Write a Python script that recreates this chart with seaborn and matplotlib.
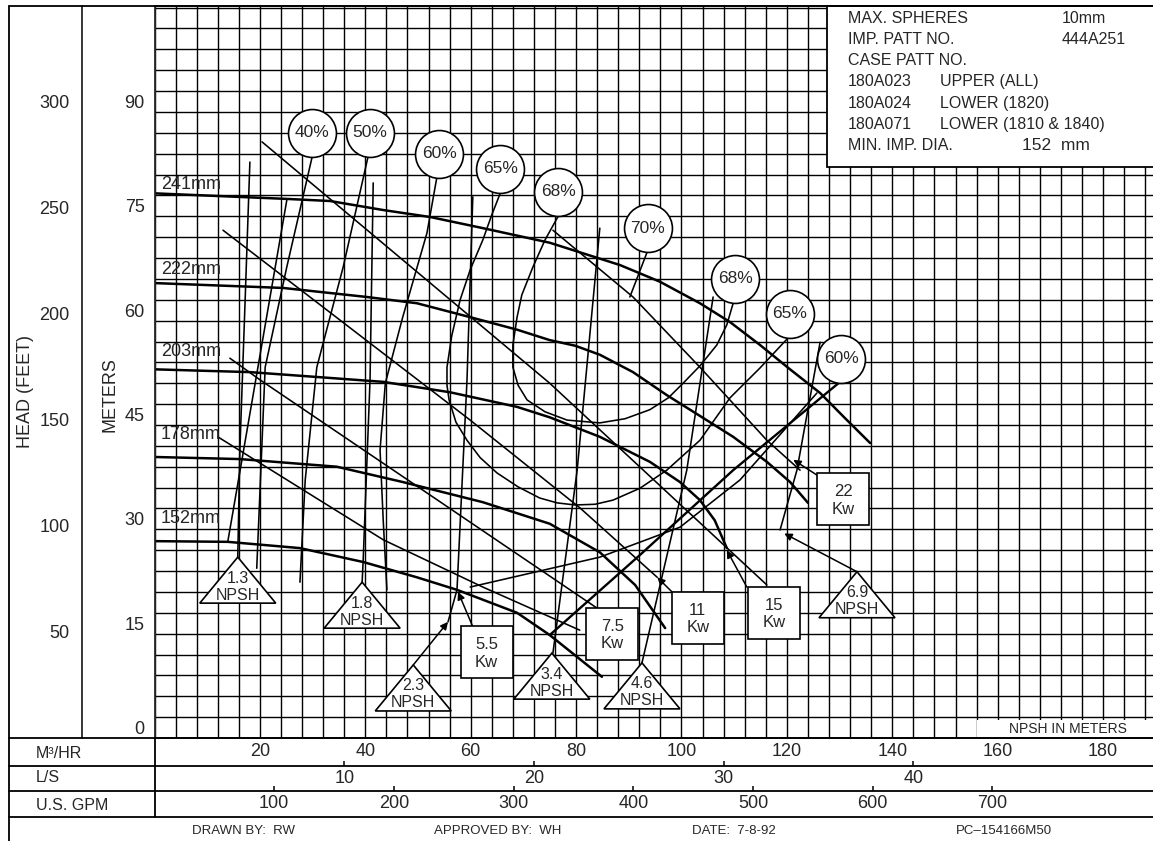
import numpy as np
import matplotlib.pyplot as plt
import matplotlib.patches as mpatches
from matplotlib.lines import Line2D
import seaborn as sns

# impeller head curves, flow in m3/hr, head in metres
dia_labels = ["241mm", "222mm", "203mm", "178mm", "152mm"]
dia_label_head = [79.5, 67.3, 55.5, 43.6, 31.6]
q_241 = [0, 25.1, 33.3, 43.4, 52.3, 62.3, 75.0, 88.3, 95.9, 103.5, 109.2, 114.9, 120.6, 126.3, 131.0, 135.8]
h_241 = [78.3, 77.5, 77.2, 75.9, 74.9, 73.3, 71.2, 68.0, 65.6, 62.5, 59.8, 56.5, 53.0, 49.6, 46.0, 42.4]
q_222 = [0, 24.4, 40.3, 49.8, 59.9, 68.8, 75.0, 79.8, 84.5, 90.8, 97.2, 103.5, 109.8, 116.2, 120.6, 124.0]
h_222 = [65.4, 64.7, 63.4, 62.5, 60.5, 58.7, 57.2, 56.4, 55.1, 52.6, 49.3, 46.3, 43.3, 39.7, 36.8, 33.8]
q_203 = [0, 18.1, 30.8, 43.4, 56.1, 68.8, 75.0, 84.5, 94.0, 99.7, 103.5, 106.3, 108.6]
h_203 = [53.0, 52.6, 51.9, 51.2, 49.7, 47.6, 46.1, 43.3, 39.7, 36.8, 34.2, 31.3, 27.3]
q_178 = [0, 16.2, 34.6, 47.1, 62.3, 75.0, 84.5, 91.2, 96.9]
h_178 = [40.4, 40.1, 39.0, 36.8, 33.9, 30.8, 26.7, 22.0, 15.8]
q_152 = [0, 13.9, 27.6, 39.6, 49.8, 57.4, 68.8, 75.0, 84.9]
h_152 = [28.3, 28.2, 27.3, 25.3, 23.1, 21.3, 18.0, 14.8, 8.8]

# efficiency contours
q_e40 = [29.9, 25.1, 21.0, 19.4]
h_e40 = [83.5, 67.7, 53.3, 24.4]
q_e50 = [40.5, 35.8, 30.8, 28.6, 27.6]
h_e50 = [83.5, 67.7, 53.3, 37.1, 22.4]
q_e60 = [53.6, 51.7, 47.1, 43.8, 42.8, 43.4, 44.1]
h_e60 = [80.7, 72.6, 60.5, 51.0, 41.4, 31.3, 21.3]
q_e65 = [65.6, 64.0, 62.3, 59.9, 58.0, 56.4, 55.5, 55.5, 55.9, 57.2, 59.3, 61.8, 65.0, 69.0,
         73.1, 76.4, 79.8, 83.6, 87.0, 92.1, 97.2, 103.5, 109.2, 114.9, 120.2]
h_e65 = [78.3, 75.2, 71.6, 67.3, 63.0, 57.8, 53.3, 50.7, 48.6, 45.4, 42.8, 40.3, 38.1, 36.1,
         34.5, 33.8, 33.5, 33.6, 34.2, 35.9, 38.5, 42.8, 48.9, 53.2, 57.5]
q_e68 = [76.6, 74.1, 71.8, 69.7, 68.8, 68.0, 68.0, 69.0, 70.7, 74.1, 78.3, 84.5, 89.3, 94.0,
         97.5, 100.3, 103.5, 106.7, 108.6, 109.8]
h_e68 = [75.0, 71.6, 67.7, 63.7, 60.5, 56.5, 53.3, 50.7, 48.6, 46.9, 45.7, 45.3, 45.9, 47.2,
         48.9, 51.0, 53.5, 56.5, 59.4, 62.5]
q_e60r = [130.1, 109.8, 92.1, 75.0]
h_e60r = [51.2, 38.5, 26.3, 14.8]
q_e60b = [59.9, 84.5, 99.7, 111.1, 125.7]
h_e60b = [21.7, 26.0, 30.3, 37.1, 49.6]
q_edge = [25.1, 13.9]
h_edge = [77.3, 28.2]

# npsh lines
q_n13 = [18.1, 17.2, 16.2, 15.8]
h_n13 = [82.8, 63.0, 41.4, 26.0]
q_n18 = [41.5, 40.9, 39.6, 39.4]
h_n18 = [79.8, 51.5, 25.6, 22.4]
q_n23 = [60.4, 59.3, 57.4, 55.7]
h_n23 = [77.8, 51.5, 21.3, 16.7]
q_n34 = [84.5, 80.2, 75.6]
h_n34 = [73.3, 38.5, 12.2]
q_n46 = [106.0, 101.0, 92.5]
h_n46 = [63.4, 38.5, 10.8]
q_n69 = [126.3, 121.9, 118.7]
h_n69 = [56.9, 38.5, 29.9]

# power lines
q_p1 = [13.0, 59.9, 80.7, 95.4]
h_p1 = [73.0, 45.7, 33.1, 23.1]
q_p2 = [20.4, 75.0, 116.2]
h_p2 = [85.7, 51.0, 22.0]
q_p3 = [14.3, 20.0, 84.5]
h_p3 = [54.6, 51.5, 18.4]
q_p4 = [12.0, 43.4, 62.3, 80.7]
h_p4 = [43.3, 28.5, 21.7, 15.5]
q_p5 = [75.6, 90.8, 103.5, 116.2, 122.5]
h_p5 = [73.0, 63.4, 53.3, 42.8, 38.5]

# labels
eff_labels = ["40%", "50%", "60%", "65%", "68%", "70%", "68%", "65%", "60%"]
eff_q = [29.9, 40.9, 54.0, 65.6, 76.6, 93.6, 110.2, 120.6, 130.3]
eff_h = [87.0, 87.0, 84.0, 81.8, 78.5, 73.3, 66.0, 61.0, 54.5]
kw_labels = ["5.5", "7.5", "11", "15", "22"]
kw_q = [63.0, 86.9, 103.1, 117.6, 130.7]
kw_h = [12.3, 15.0, 17.3, 18.0, 34.3]
npsh_labels = ["1.3", "1.8", "2.3", "3.4", "4.6", "6.9"]
npsh_q = [15.8, 39.4, 49.1, 75.4, 92.5, 133.3]
npsh_h = [26.0, 22.4, 10.5, 12.2, 10.8, 23.9]

# leader lines with arrowheads (from, to)
lead_q0 = [60.4, 98.2, 112.4, 125.7, 49.1, 133.3]
lead_h0 = [16.0, 21.0, 21.7, 37.8, 10.5, 23.9]
lead_q1 = [57.6, 95.4, 108.6, 121.2, 55.7, 119.5]
lead_h1 = [21.0, 23.1, 27.0, 40.0, 16.7, 29.4]
q_70lead = [93.5, 90.2]
h_70lead = [69.9, 63.4]

# flow scales along the bottom
m3hr_ticks = [20, 40, 60, 80, 100, 120, 140, 160, 180]
ls_ticks = [10, 20, 30, 40]
gpm_ticks = [100, 200, 300, 400, 500, 600, 700]
ft_ticks = [50, 100, 150, 200, 250, 300]
m_ticks = [0, 15, 30, 45, 60, 75, 90]

info_left = ["MAX. SPHERES", "IMP. PATT NO.", "CASE PATT NO.", "180A023", "180A024",
             "180A071", "MIN. IMP. DIA."]
info_mid = ["", "", "", "UPPER (ALL)", "LOWER (1820)", "LOWER (1810 & 1840)", ""]
info_right = ["10mm", "444A251", "", "", "", "", ""]

sns.set_style("white")
plt.rcParams["font.family"] = ["Liberation Sans", "DejaVu Sans"]

W, H = 1153, 841
fig = plt.figure(figsize=(W / 100, H / 100), dpi=100)


def fx(px):
    return px / W


def fy(py):
    return 1 - py / H


def fig_line(x0, y0, x1, y1, lw=1.3):
    fig.add_artist(Line2D([fx(x0), fx(x1)], [fy(y0), fy(y1)], transform=fig.transFigure,
                          color="black", lw=lw, zorder=6))


X0, X1, Y0, Y1 = 154.5, 1153, 738, 6
ax = fig.add_axes([fx(X0), fy(Y0), fx(X1) - fx(X0), fy(Y1) - fy(Y0)])
ax.set_xlim(0, (X1 - X0) / 5.27)
ax.set_ylim(0, (Y0 - Y1) / 6.956)
ax.set_xticks(np.arange(0, 190, 4))
ax.set_yticks(m_ticks)
ax.set_yticks(np.arange(0, 106, 3), minor=True)
ax.set_yticklabels([str(v) for v in m_ticks])
ax.grid(True, which="both", color="black", lw=1.0)
ax.set_axisbelow(True)
ax.tick_params(axis="x", length=0, labelbottom=False)
ax.tick_params(axis="y", which="both", length=0, pad=7, labelsize=13)
for lbl in ax.get_yticklabels():
    lbl.set_va("bottom")
ax.spines["right"].set_visible(False)
for s in ["left", "top", "bottom"]:
    ax.spines[s].set_linewidth(1.3)
ax.set_xlabel("")
ax.set_ylabel("")

heads = [(q_241, h_241), (q_222, h_222), (q_203, h_203), (q_178, h_178), (q_152, h_152)]
for (q, h) in heads:
    sns.lineplot(x=q, y=h, ax=ax, color="black", lw=1.8, sort=False, estimator=None)

thin = [(q_e40, h_e40), (q_e50, h_e50), (q_e60, h_e60), (q_e65, h_e65), (q_e68, h_e68),
        (q_e60b, h_e60b), (q_edge, h_edge),
        (q_n13, h_n13), (q_n18, h_n18), (q_n23, h_n23), (q_n34, h_n34), (q_n46, h_n46),
        (q_n69, h_n69), (q_p1, h_p1), (q_p2, h_p2), (q_p3, h_p3), (q_p4, h_p4),
        (q_p5, h_p5), (q_70lead, h_70lead)]
for (q, h) in thin:
    sns.lineplot(x=q, y=h, ax=ax, color="black", lw=1.15, sort=False, estimator=None)
sns.lineplot(x=q_e60r, y=h_e60r, ax=ax, color="black", lw=1.7, sort=False, estimator=None)

for i in range(len(lead_q0)):
    ax.annotate("", xy=(lead_q1[i], lead_h1[i]), xytext=(lead_q0[i], lead_h0[i]),
                arrowprops=dict(arrowstyle="-|>", color="black", lw=1.1,
                                mutation_scale=11, shrinkA=0, shrinkB=0), zorder=3)

# head labels
for lab, hy in zip(dia_labels, dia_label_head):
    ax.text(1.2, hy, lab, fontsize=13, ha="left", va="center", zorder=5)

# efficiency circles
ax.scatter(eff_q, eff_h, s=1190, facecolor="white", edgecolor="black", lw=1.2, zorder=4)
for lab, q, h in zip(eff_labels, eff_q, eff_h):
    ax.text(q, h, lab, fontsize=12.5, ha="center", va="center", zorder=5)

# power boxes
bw, bh = 52 / 5.27, 52 / 6.956
for lab, q, h in zip(kw_labels, kw_q, kw_h):
    ax.add_patch(mpatches.Rectangle((q - bw / 2, h - bh / 2), bw, bh, fc="white", ec="black",
                                    lw=1.2, zorder=4))
    ax.text(q, h + 1.1, lab, fontsize=12, ha="center", va="center", zorder=5)
    ax.text(q, h - 1.4, "Kw", fontsize=12, ha="center", va="center", zorder=5)

# npsh triangles
tw, th = 38 / 5.27, 46 / 6.956
for lab, q, h in zip(npsh_labels, npsh_q, npsh_h):
    ax.add_patch(mpatches.Polygon([(q, h), (q - tw, h - th), (q + tw, h - th)], closed=True,
                                  fc="white", ec="black", lw=1.2, zorder=4))
    ax.text(q, h - 3.0, lab, fontsize=11.5, ha="center", va="center", zorder=5)
    ax.text(q, h - 5.45, "NPSH", fontsize=11.5, ha="center", va="center", zorder=5)

# feet scale
axf = fig.add_axes([fx(82), fy(Y0), 1e-5, fy(Y1) - fy(Y0)])
axf.set_ylim(0, ax.get_ylim()[1] / 0.3048)
axf.set_yticks(ft_ticks)
axf.set_yticklabels([str(v) for v in ft_ticks])
axf.xaxis.set_visible(False)
axf.patch.set_visible(False)
for s in ["right", "top", "bottom"]:
    axf.spines[s].set_visible(False)
axf.spines["left"].set_linewidth(1.3)
axf.tick_params(axis="y", direction="in", length=4, width=1.3, pad=9, labelsize=13)

# flow rows
rows = [(738, 766, 1.0, m3hr_ticks, False), (766, 791, 3.6, ls_ticks, True),
        (791, 817, 1 / 4.4029, gpm_ticks, True)]
for top, bot, per, ticks, marks in rows:
    r = fig.add_axes([fx(X0), fy(bot), fx(X1) - fx(X0), fy(top) - fy(bot)])
    r.set_xlim(0, ax.get_xlim()[1] / per)
    r.set_ylim(0, 1)
    r.patch.set_visible(False)
    for s in r.spines.values():
        s.set_visible(False)
    r.set_yticks([])
    r.set_xticks(ticks)
    r.tick_params(axis="x", bottom=False, labelbottom=False, top=marks, direction="out",
                  length=3.5, width=1.3)
    for v in ticks:
        r.text(v, 0.5, str(v), fontsize=13, ha="center", va="center",
               transform=r.get_xaxis_transform())

# frame
fig_line(9, 6, 1153, 6)
fig_line(9, 6, 9, 841)
fig_line(154.5, 738, 154.5, 817)
for yy in [738, 766, 791, 817]:
    fig_line(9, yy, 1153, yy)

fig.text(fx(36), fy(753), "M³/HR", fontsize=11.5, ha="left", va="center")
fig.text(fx(36), fy(778), "L/S", fontsize=11.5, ha="left", va="center")
fig.text(fx(36), fy(805), "U.S. GPM", fontsize=11.5, ha="left", va="center")
fig.text(fx(25), fy(392), "HEAD (FEET)", fontsize=13, rotation=90, ha="center", va="center")
fig.text(fx(110), fy(395), "METERS", fontsize=13, rotation=90, ha="center", va="center")

for s, xc in [("DRAWN BY:  RW", 243), ("APPROVED BY:  WH", 498), ("DATE:  7-8-92", 734),
              ("PC\u2013154166M50", 1004)]:
    fig.text(fx(xc), fy(831), s, fontsize=9.5, ha="center", va="center")

# info block
fig.add_artist(mpatches.Rectangle((fx(827), fy(167)), fx(1160) - fx(827), fy(6) - fy(167),
                                  transform=fig.transFigure, fc="white", ec="black", lw=1.3,
                                  zorder=5))
for i in range(len(info_left)):
    yy = fy(18.3 + 21.2 * i)
    fig.text(fx(848), yy, info_left[i], fontsize=11.5, va="center", zorder=7)
    if info_mid[i]:
        fig.text(fx(940), yy, info_mid[i], fontsize=11.5, va="center", zorder=7)
    if info_right[i]:
        fig.text(fx(1062), yy, info_right[i], fontsize=11.5, va="center", zorder=7)
fig.text(fx(1022), fy(18.3 + 21.2 * 6), "152  mm", fontsize=12.5, va="center", zorder=7)

fig.add_artist(mpatches.Rectangle((fx(977), fy(737)), fx(1153) - fx(977), fy(719.5) - fy(737),
                                  transform=fig.transFigure, fc="white", ec="none", zorder=5))
fig.text(fx(1068), fy(729), "NPSH IN METERS", fontsize=10, ha="center", va="center", zorder=7)

fig.savefig("out.png", dpi=100)
